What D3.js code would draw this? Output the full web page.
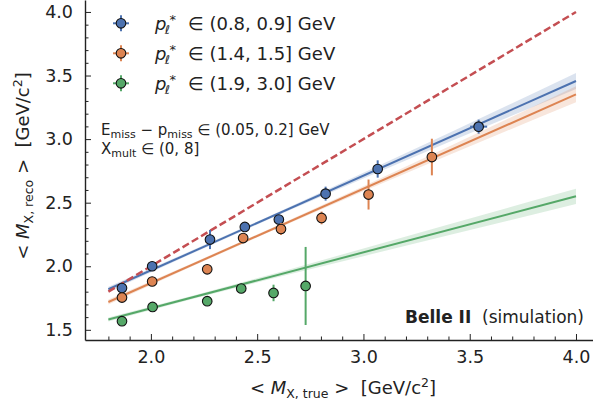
<!DOCTYPE html>
<html><head><meta charset="utf-8">
<script src="https://cdn.jsdelivr.net/npm/d3@7"></script>
<style>body{margin:0;background:#fff} svg{display:block;font-family:"DejaVu Sans",sans-serif} text{white-space:pre}</style>
</head><body><svg id="c" width="593" height="407"></svg>
<script>
// ---- data ----
const blueX = [1.864, 2.006, 2.278, 2.442, 2.602, 2.822, 3.067, 3.542];
const blueY = [1.829, 2.000, 2.210, 2.309, 2.367, 2.571, 2.765, 3.098];
const blueYErr = [0.02, 0.02, 0.075, 0.03, 0.03, 0.055, 0.068, 0.055];
const blueXErr = [0, 0, 0, 0, 0, 0, 0, 0.04];

const orangeX = [1.864, 2.006, 2.265, 2.434, 2.612, 2.803, 3.024, 3.322];
const orangeY = [1.754, 1.880, 1.976, 2.222, 2.293, 2.380, 2.564, 2.859];
const orangeYErr = [0.02, 0.02, 0.03, 0.03, 0.047, 0.05, 0.118, 0.144];
const orangeXErr = [0, 0, 0, 0, 0, 0, 0, 0];

const greenX = [1.864, 2.008, 2.265, 2.425, 2.577, 2.728];
const greenY = [1.568, 1.680, 1.725, 1.825, 1.790, 1.845];
const greenYErr = [0.02, 0.02, 0.02, 0.03, 0.065, 0.307];
const greenXErr = [0, 0, 0, 0, 0, 0];

const fitX = [1.8, 4.0];
const blueFit = [1.819, 3.457];
const orangeFit = [1.719, 3.352];
const greenFit = [1.581, 2.550];

const bandX = [1.8, 2.2, 2.6, 3.0, 3.4, 3.8, 4.0];
const blueBand = [0.02, 0.012, 0.012, 0.022, 0.035, 0.053, 0.063];
const orangeBand = [0.02, 0.012, 0.012, 0.02, 0.033, 0.052, 0.063];
const greenBand = [0.015, 0.012, 0.018, 0.03, 0.042, 0.055, 0.06];

const diagX = [1.8, 4.0];

const xTicks = [2.0, 2.5, 3.0, 3.5, 4.0];
const yTicks = [1.5, 2.0, 2.5, 3.0, 3.5, 4.0];
const legendRanges = ["(0.8, 0.9]", "(1.4, 1.5]", "(1.9, 3.0]"];
const colors = ["#4c72b0", "#dd8452", "#55a868"];
const diagColor = "#c44e52";

// ---- scales ----
const svg = d3.select("#c");
const x = d3.scaleLinear().domain([1.69, 4.08]).range([85, 593]);
const y = d3.scaleLinear().domain([1.42, 4.094]).range([340, 0]);
const ink = "#222";

// ---- bands & fits ----
const series = [
  {xs: blueX, ys: blueY, ye: blueYErr, xe: blueXErr, fit: blueFit, band: blueBand, c: colors[0]},
  {xs: orangeX, ys: orangeY, ye: orangeYErr, xe: orangeXErr, fit: orangeFit, band: orangeBand, c: colors[1]},
  {xs: greenX, ys: greenY, ye: greenYErr, xe: greenXErr, fit: greenFit, band: greenBand, c: colors[2]}
];
const gFit = svg.append("g");
series.forEach(s => {
  const line = d3.scaleLinear().domain(fitX).range(s.fit);
  const area = d3.area().x(d => x(d[0])).y0(d => y(line(d[0]) - d[1])).y1(d => y(line(d[0]) + d[1]));
  gFit.append("path").datum(bandX.map((bx, i) => [bx, s.band[i]]))
    .attr("d", area).attr("fill", s.c).attr("fill-opacity", 0.2);
});
series.forEach(s => {
  gFit.append("path").datum(fitX.map((fx, i) => [fx, s.fit[i]]))
    .attr("d", d3.line().x(d => x(d[0])).y(d => y(d[1])))
    .attr("stroke", s.c).attr("stroke-width", 2).attr("fill", "none");
});
gFit.append("path").datum(diagX)
  .attr("d", d3.line().x(d => x(d)).y(d => y(d)))
  .attr("stroke", diagColor).attr("stroke-width", 2.5).attr("stroke-dasharray", "7.4,3.4").attr("fill", "none");

// ---- points ----
series.forEach(s => {
  const g = svg.append("g");
  s.xs.forEach((px, i) => {
    g.append("line").attr("x1", x(px)).attr("x2", x(px))
      .attr("y1", y(s.ys[i] - s.ye[i])).attr("y2", y(s.ys[i] + s.ye[i]))
      .attr("stroke", s.c).attr("stroke-width", 2);
    if (s.xe[i] > 0) g.append("line").attr("x1", x(px - s.xe[i])).attr("x2", x(px + s.xe[i]))
      .attr("y1", y(s.ys[i])).attr("y2", y(s.ys[i]))
      .attr("stroke", s.c).attr("stroke-width", 2);
  });
  s.xs.forEach((px, i) => {
    g.append("circle").attr("cx", x(px)).attr("cy", y(s.ys[i])).attr("r", 4.8)
      .attr("fill", s.c).attr("stroke", "#111").attr("stroke-width", 1.1);
  });
});

// ---- axes ----
const minorX = d3.range(18, 41).map(v => v / 10).filter(v => !xTicks.some(t => Math.abs(t - v) < 1e-6));
const minorY = d3.range(15, 41).map(v => v / 10).filter(v => !yTicks.some(t => Math.abs(t - v) < 1e-6));
svg.append("g").attr("transform", "translate(0,340)")
  .call(d3.axisBottom(x).tickValues(xTicks).tickFormat(d3.format(".1f")).tickSizeInner(-6).tickSizeOuter(0).tickPadding(11));
svg.append("g").attr("transform", "translate(0,340)")
  .call(d3.axisBottom(x).tickValues(minorX).tickFormat("").tickSizeInner(-3.5).tickSizeOuter(0))
  .select(".domain").remove();
svg.append("g").attr("transform", "translate(85,0)")
  .call(d3.axisLeft(y).tickValues(yTicks).tickFormat(d3.format(".1f")).tickSizeInner(-6).tickSizeOuter(0).tickPadding(12));
svg.append("g").attr("transform", "translate(85,0)")
  .call(d3.axisLeft(y).tickValues(minorY).tickFormat("").tickSizeInner(-3.5).tickSizeOuter(0))
  .select(".domain").remove();
svg.selectAll(".tick line").attr("stroke", ink).attr("stroke-width", 1);
svg.selectAll(".domain").attr("stroke", ink).attr("stroke-width", 1.4);
svg.selectAll(".tick text").attr("font-size", "17.5px").attr("fill", ink).attr("font-family", "DejaVu Sans");

// ---- axis titles ----
function massLabel(sel, sub) {
  sel.append("tspan").text("< ");
  sel.append("tspan").attr("font-style", "italic").text("M");
  sel.append("tspan").attr("font-size", "12.5px").attr("dy", 4).text(sub);
  sel.append("tspan").attr("dy", -4).text(" >  [GeV/c");
  sel.append("tspan").attr("font-size", "12.5px").attr("dy", -7).text("2");
  sel.append("tspan").attr("dy", 7).text("]");
}
const xt = svg.append("text").attr("x", 343).attr("y", 394).attr("text-anchor", "middle")
  .attr("font-size", "18px").attr("fill", ink);
massLabel(xt, "X, true");
const yt = svg.append("text").attr("transform", "translate(29,166) rotate(-90)").attr("text-anchor", "middle")
  .attr("font-size", "18px").attr("fill", ink);
massLabel(yt, "X, reco");

// ---- legend ----
const legRowY = [23.3, 53.3, 83.3];
legendRanges.forEach((r, i) => {
  const cy = legRowY[i], cx = 121;
  svg.append("line").attr("x1", cx - 8).attr("x2", cx + 8).attr("y1", cy).attr("y2", cy).attr("stroke", colors[i]).attr("stroke-width", 2);
  svg.append("line").attr("x1", cx).attr("x2", cx).attr("y1", cy - 8).attr("y2", cy + 8).attr("stroke", colors[i]).attr("stroke-width", 2);
  svg.append("circle").attr("cx", cx).attr("cy", cy).attr("r", 4.8).attr("fill", colors[i]).attr("stroke", "#111").attr("stroke-width", 1.1);
  const by = cy + 6.5;
  const t = svg.append("text").attr("x", 155).attr("y", by).attr("font-size", "18px").attr("fill", ink);
  t.append("tspan").attr("font-style", "italic").text("p");
  t.append("tspan").attr("x", 165).attr("dy", 4).attr("font-size", "12.5px").attr("font-style", "italic").text("ℓ");
  t.append("tspan").attr("x", 169.5).attr("dy", -10).attr("font-size", "13px").text("*");
  t.append("tspan").attr("x", 188).attr("dy", 6).text("∈ " + r + " GeV");
});

// ---- annotations ----
const a1 = svg.append("text").attr("x", 101).attr("y", 135).attr("font-size", "15px").attr("fill", ink);
a1.append("tspan").text("E");
a1.append("tspan").attr("font-size", "11px").attr("dy", 3).text("miss");
a1.append("tspan").attr("dy", -3).text(" − p");
a1.append("tspan").attr("font-size", "11px").attr("dy", 3).text("miss");
a1.append("tspan").attr("dy", -3).text(" ∈ (0.05, 0.2] GeV");
const a2 = svg.append("text").attr("x", 101).attr("y", 154).attr("font-size", "15px").attr("fill", ink);
a2.append("tspan").text("X");
a2.append("tspan").attr("font-size", "11px").attr("dy", 3).text("mult");
a2.append("tspan").attr("dy", -3).text(" ∈ (0, 8]");

const b = svg.append("text").attr("x", 405).attr("y", 323).attr("font-size", "17px").attr("fill", ink);
b.append("tspan").attr("font-weight", "bold").text("Belle II");
b.append("tspan").text("  (simulation)");
</script></body></html>
